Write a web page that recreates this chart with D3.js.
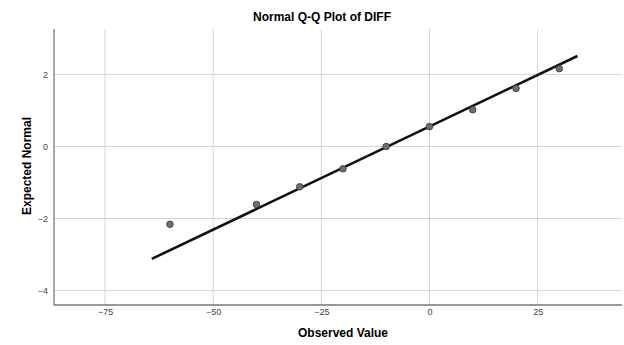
<!DOCTYPE html>
<html>
<head>
<meta charset="utf-8">
<script src="https://cdn.jsdelivr.net/npm/d3@7"></script>
<style>
  body { margin: 0; background: #fff; }
  text { font-family: "Liberation Sans", Arial, sans-serif; }
</style>
</head>
<body>
<div id="chart"></div>
<script>
const observed = [-60, -40, -30, -20, -10, 0, 10, 20, 30];
const expected = [-2.16, -1.61, -1.12, -0.62, 0.0, 0.55, 1.02, 1.61, 2.16];
// reference line end points
const lineX = [-64.2, 34.2];
const lineY = [-3.12, 2.51];
const xTicks = [-75, -50, -25, 0, 25];
const yTicks = [-4, -2, 0, 2];

const _width = 624, _height = 345;
const plotLeft = 54, plotRight = 622, plotTop = 29, plotBottom = 305;

const svg = d3.select('#chart').append('svg')
  .attr('width', _width)
  .attr('height', _height);

const xScale = d3.scaleLinear().domain([-86.8, 44.5]).range([plotLeft, plotRight]);
const yScale = d3.scaleLinear().domain([-4.40, 3.26]).range([plotBottom, plotTop]);

// grid
const grid = svg.append('g');
grid.selectAll('.vg').data(xTicks).enter().append('line')
  .attr('x1', d => xScale(d)).attr('x2', d => xScale(d))
  .attr('y1', plotTop).attr('y2', plotBottom)
  .style('stroke', '#d4d4d4').style('stroke-width', 1);
grid.selectAll('.hg').data(yTicks).enter().append('line')
  .attr('x1', plotLeft).attr('x2', plotRight)
  .attr('y1', d => yScale(d)).attr('y2', d => yScale(d))
  .style('stroke', '#d4d4d4').style('stroke-width', 1);

// axes
const xAxis = svg.append('g')
  .attr('transform', 'translate(0,' + plotBottom + ')')
  .call(d3.axisBottom(xScale).tickValues(xTicks).tickSize(0).tickPadding(4).tickSizeOuter(0));
const yAxis = svg.append('g')
  .attr('transform', 'translate(' + plotLeft + ',0)')
  .call(d3.axisLeft(yScale).tickValues(yTicks).tickSize(0).tickPadding(6).tickSizeOuter(0));

[xAxis, yAxis].forEach(a => {
  a.select('.domain').style('stroke', '#777').style('stroke-width', 1.3);
  a.selectAll('text').style('font-size', '9px').style('fill', '#444');
});
xAxis.select('.domain').attr('d', 'M' + plotLeft + ',0H' + plotRight);
yAxis.select('.domain').attr('d', 'M0,' + plotTop + 'V' + plotBottom);

// reference line
svg.append('line')
  .attr('x1', xScale(lineX[0])).attr('y1', yScale(lineY[0]))
  .attr('x2', xScale(lineX[1])).attr('y2', yScale(lineY[1]))
  .style('stroke', '#111')
  .style('stroke-width', 2.6);

// points
svg.append('g').selectAll('circle')
  .data(observed)
  .enter()
  .append('circle')
  .attr('cx', d => xScale(d))
  .attr('cy', (d, i) => yScale(expected[i]))
  .attr('r', 3.3)
  .style('fill', '#6e6e6e')
  .style('stroke', '#333')
  .style('stroke-width', 0.8);

// labels
svg.append('text')
  .attr('x', 322).attr('y', 21)
  .style('text-anchor', 'middle')
  .style('font-size', '12px').style('font-weight', 'bold')
  .text('Normal Q-Q Plot of DIFF');

svg.append('text')
  .attr('x', 343).attr('y', 337)
  .style('text-anchor', 'middle')
  .style('font-size', '12px').style('font-weight', 'bold')
  .text('Observed Value');

svg.append('text')
  .attr('transform', 'translate(31,166) rotate(-90)')
  .style('text-anchor', 'middle')
  .style('font-size', '12px').style('font-weight', 'bold')
  .text('Expected Normal');
</script>
</body>
</html>
